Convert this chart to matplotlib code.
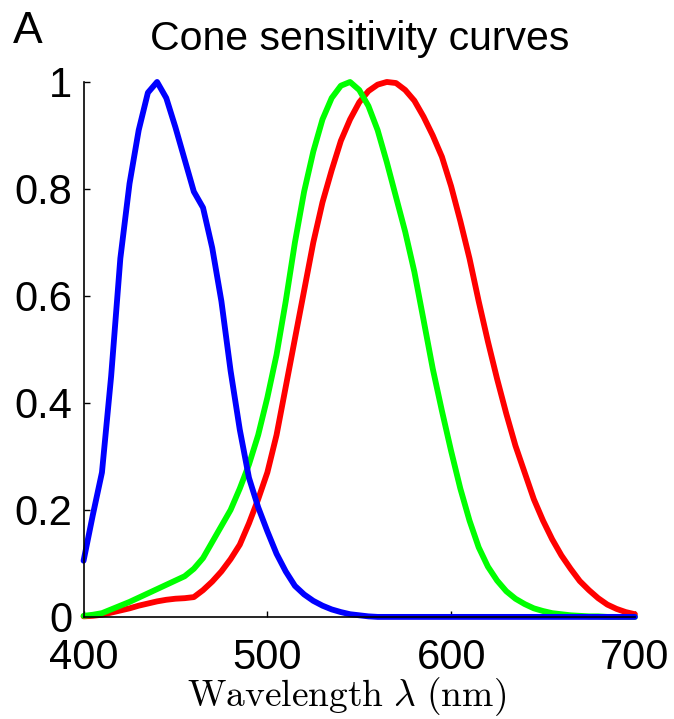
import numpy as np
import matplotlib
matplotlib.use('Agg')
import matplotlib.pyplot as plt

# wavelength grid (nm), 5 nm steps
wavelength = np.arange(400, 705, 5)

# S cone (blue)
s_cone = [0.105, 0.19, 0.27, 0.45, 0.67, 0.81, 0.91, 0.98, 1.00, 0.97,
          0.915, 0.855, 0.795, 0.765, 0.69, 0.59, 0.46, 0.35, 0.26, 0.205,
          0.16, 0.118, 0.085, 0.058, 0.042, 0.03, 0.021, 0.014, 0.009, 0.005,
          0.003, 0.001, 0.0, 0.0, 0.0, 0.0, 0.0, 0.0, 0.0, 0.0,
          0.0, 0.0, 0.0, 0.0, 0.0, 0.0, 0.0, 0.0, 0.0, 0.0,
          0.0, 0.0, 0.0, 0.0, 0.0, 0.0, 0.0, 0.0, 0.0, 0.0, 0.0]

# M cone (green)
m_cone = [0.002, 0.004, 0.007, 0.014, 0.021, 0.028, 0.036, 0.044, 0.052, 0.06,
          0.068, 0.076, 0.09, 0.11, 0.14, 0.17, 0.2, 0.24, 0.285, 0.34,
          0.41, 0.49, 0.59, 0.70, 0.795, 0.87, 0.93, 0.97, 0.993, 1.0,
          0.985, 0.955, 0.91, 0.85, 0.785, 0.72, 0.645, 0.555, 0.464, 0.385,
          0.31, 0.24, 0.18, 0.13, 0.094, 0.068, 0.048, 0.034, 0.024, 0.016,
          0.011, 0.007, 0.005, 0.003, 0.002, 0.001, 0.001, 0.0, 0.0, 0.0, 0.0]

# L cone (red)
l_cone = [0.001, 0.002, 0.004, 0.008, 0.012, 0.016, 0.021, 0.025, 0.029, 0.032,
          0.034, 0.035, 0.037, 0.05, 0.066, 0.085, 0.108, 0.135, 0.175, 0.22,
          0.27, 0.34, 0.43, 0.52, 0.61, 0.70, 0.775, 0.835, 0.89, 0.93,
          0.962, 0.983, 0.995, 1.0, 0.998, 0.985, 0.965, 0.935, 0.90, 0.86,
          0.805, 0.74, 0.67, 0.59, 0.515, 0.445, 0.38, 0.32, 0.27, 0.22,
          0.18, 0.145, 0.115, 0.09, 0.067, 0.05, 0.035, 0.023, 0.015, 0.009, 0.005]

x_ticks = [400, 500, 600, 700]
y_ticks = [0, 0.2, 0.4, 0.6, 0.8, 1]
y_tick_labels = ['0', '0.2', '0.4', '0.6', '0.8', '1']

plt.rcParams['font.family'] = ['Liberation Sans', 'DejaVu Sans']
plt.rcParams['mathtext.fontset'] = 'cm'

fig = plt.figure(figsize=(6.74, 7.19), dpi=100)
ax = fig.add_axes([0.124, 0.142, 0.818, 0.744])

line_kw = dict(lw=4.2, clip_on=False, solid_joinstyle='round', solid_capstyle='round')
ax.plot(wavelength, l_cone, color=(1, 0, 0), **line_kw)
ax.plot(wavelength, m_cone, color=(0, 1, 0), **line_kw)
ax.plot(wavelength, s_cone, color=(0, 0, 1), **line_kw)

ax.set_xlim(400, 700)
ax.set_ylim(0, 1)
ax.set_xticks(x_ticks)
ax.set_yticks(y_ticks)
ax.set_yticklabels(y_tick_labels)
ax.spines['top'].set_visible(False)
ax.spines['right'].set_visible(False)
ax.spines['left'].set_linewidth(1.2)
ax.spines['bottom'].set_linewidth(1.2)
ax.tick_params(direction='in', length=4, width=1, labelsize=30)
ax.tick_params(axis='x', pad=15)
ax.tick_params(axis='y', pad=8)

ax.set_title('Cone sensitivity curves', fontsize=29.5, pad=23)
ax.set_xlabel(r'$\mathrm{Wavelength}\ \lambda\ \mathrm{(nm)}$', fontsize=27)
ax.xaxis.set_label_coords(0.477, -0.108)
fig.text(13 / 674, 1 - 43 / 719, 'A', fontsize=32, ha='left', va='baseline')

fig.savefig('out.png', dpi=100)
